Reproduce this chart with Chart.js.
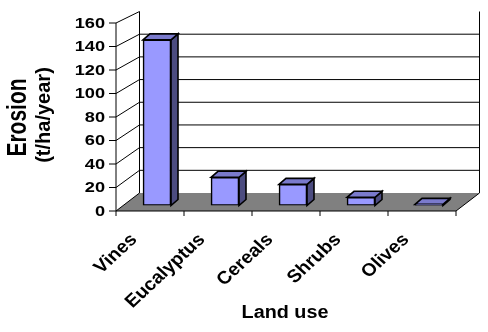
<!DOCTYPE html>
<html>
<head>
<meta charset="utf-8">
<script src="https://cdn.jsdelivr.net/npm/chart.js@4.4.1/dist/chart.umd.min.js"></script>
<style>
  html, body { margin: 0; padding: 0; background: #fff; }
  #wrap { width: 488px; height: 332px; }
</style>
</head>
<body>
<div id="wrap"><canvas id="chart" width="488" height="332"></canvas></div>
<script>
// ─── data ────────────────────────────────────────────────────────────────────
const categories = ['Vines', 'Eucalyptus', 'Cereals', 'Shrubs', 'Olives'];
const erosion = [141, 24, 18, 7, 1];
const yTicks = [0, 20, 40, 60, 80, 100, 120, 140, 160];
const yTitle = ['Erosion', '(t/ha/year)'];
const xTitle = 'Land use';

// ─── 3D look (excel style) ───────────────────────────────────────────────────
const FLOOR_DX = 23.5;
const DY_BOTTOM = -18;   // depth offset at value 0
const DY_TOP = -11.5;    // depth offset at top of axis (perspective)
const BAR_SHIFT = [7, -5.5];
const BAR_DEPTH = [7, -6];
const FONT = "Arial, 'Liberation Sans', sans-serif";

function line(ctx, x1, y1, x2, y2) {
  ctx.beginPath();
  ctx.moveTo(x1, y1);
  ctx.lineTo(x2, y2);
  ctx.stroke();
}

function poly(ctx, pts, fill, stroke, lw) {
  ctx.beginPath();
  pts.forEach(([px, py], i) => (i ? ctx.lineTo(px, py) : ctx.moveTo(px, py)));
  ctx.closePath();
  if (fill) { ctx.fillStyle = fill; ctx.fill(); }
  if (stroke) { ctx.strokeStyle = stroke; ctx.lineWidth = lw || 1; ctx.stroke(); }
}

// text drawn with a horizontal stretch like the old excel rendering
function text(ctx, txt, px, py, o) {
  ctx.save();
  ctx.translate(px, py);
  ctx.scale(o.sx || 1, 1);
  ctx.rotate(o.rot || 0);
  ctx.font = o.font;
  ctx.fillStyle = '#000';
  ctx.textAlign = o.align || 'center';
  ctx.textBaseline = o.base || 'middle';
  ctx.fillText(txt, 0, 0);
  ctx.restore();
}

const threeD = {
  id: 'threeD',
  beforeDatasetsDraw(c) {
    const { ctx, chartArea: a, scales: { x, y } } = c;
    const back = (px, py) => {
      const t = (a.bottom - py) / (a.bottom - a.top);
      return [px + FLOOR_DX, py + DY_BOTTOM + (DY_TOP - DY_BOTTOM) * t];
    };
    const y0 = y.getPixelForValue(0);
    const yMax = y.getPixelForValue(yTicks[yTicks.length - 1]);

    ctx.save();
    ctx.lineWidth = 1;
    ctx.strokeStyle = '#000';

    // floor
    const bl = back(a.left, y0), br = back(a.right, y0);
    poly(ctx, [[a.left, y0], [a.right, y0], br, bl], '#808080');

    // back wall grid
    yTicks.forEach((v) => {
      if (v === 0 || v === yTicks[yTicks.length - 1]) return;
      const p1 = back(a.left, y.getPixelForValue(v));
      const p2 = back(a.right, y.getPixelForValue(v));
      line(ctx, p1[0], p1[1], p2[0], p1[1]);
    });
    const tl = back(a.left, yMax), tr = back(a.right, yMax);
    line(ctx, bl[0], bl[1], tl[0], tl[1]);
    line(ctx, br[0], br[1], tr[0], tr[1]);

    // side wall diagonals
    yTicks.forEach((v) => {
      const py = y.getPixelForValue(v);
      const p = back(a.left, py);
      line(ctx, a.left, py, p[0], p[1]);
      line(ctx, a.left - 7, py, a.left, py);
    });
    line(ctx, a.right, y0, br[0], br[1]);

    // front axes
    line(ctx, a.left, yMax, a.left, y0);
    line(ctx, a.left, y0, a.right, y0);
    const step = (a.right - a.left) / categories.length;
    for (let i = 0; i <= categories.length; i++) {
      const px = a.left + step * i;
      line(ctx, px, y0, px, y0 + 5);
    }
    ctx.restore();

    // bar sides and tops, front faces are drawn by chart.js
    ctx.save();
    ctx.translate(BAR_SHIFT[0], BAR_SHIFT[1]);
    const [dx, dy] = BAR_DEPTH;
    c.getDatasetMeta(0).data.forEach((el) => {
      const l = el.x - el.width / 2, r = el.x + el.width / 2;
      const t = el.y, b = el.base;
      poly(ctx, [[r, t], [r + dx, t + dy], [r + dx, b + dy], [r, b]], '#4c4c80', '#000', 1.6);
      poly(ctx, [[l, t], [l + dx, t + dy], [r + dx, t + dy], [r, t]], '#7a7acc', '#000', 1.6);
    });
  },
  afterDatasetsDraw(c) {
    const { ctx, chartArea: a, scales: { x, y } } = c;
    ctx.restore();

    // y tick labels
    yTicks.forEach((v) => {
      text(ctx, String(v), a.left - 11, y.getPixelForValue(v) + 1,
        { font: 'bold 14px ' + FONT, sx: 1.3, align: 'right' });
    });

    // category labels
    categories.forEach((name, i) => {
      text(ctx, name, x.getPixelForValue(i) - 16, a.bottom + 26,
        { font: 'bold 18px ' + FONT, sx: 1.08, rot: -Math.PI / 4, align: 'right' });
    });

    // axis titles
    text(ctx, yTitle[0], 18.5, 117.5, { font: 'bold 21px ' + FONT, sx: 1.33, rot: -Math.PI / 2 });
    text(ctx, yTitle[1], 44, 115, { font: 'bold 20px ' + FONT, sx: 1.0, rot: -Math.PI / 2 });
    text(ctx, xTitle, 285, 318, { font: 'bold 18px ' + FONT, sx: 1.1, base: 'alphabetic' });
  },
};

// ─── chart ───────────────────────────────────────────────────────────────────
new Chart(document.getElementById('chart'), {
  type: 'bar',
  data: {
    labels: categories,
    datasets: [{
      data: erosion,
      backgroundColor: '#9999ff',
      borderColor: '#000',
      borderWidth: 1.6,
      borderSkipped: false,
      barThickness: 28,
    }],
  },
  options: {
    responsive: false,
    animation: false,
    devicePixelRatio: 1,
    layout: { padding: { left: 116, right: 32, top: 23, bottom: 121 } },
    plugins: { legend: { display: false }, tooltip: { enabled: false } },
    scales: {
      x: { display: false },
      y: { display: false, min: 0, max: 160 },
    },
  },
  plugins: [threeD],
});
</script>
</body>
</html>
